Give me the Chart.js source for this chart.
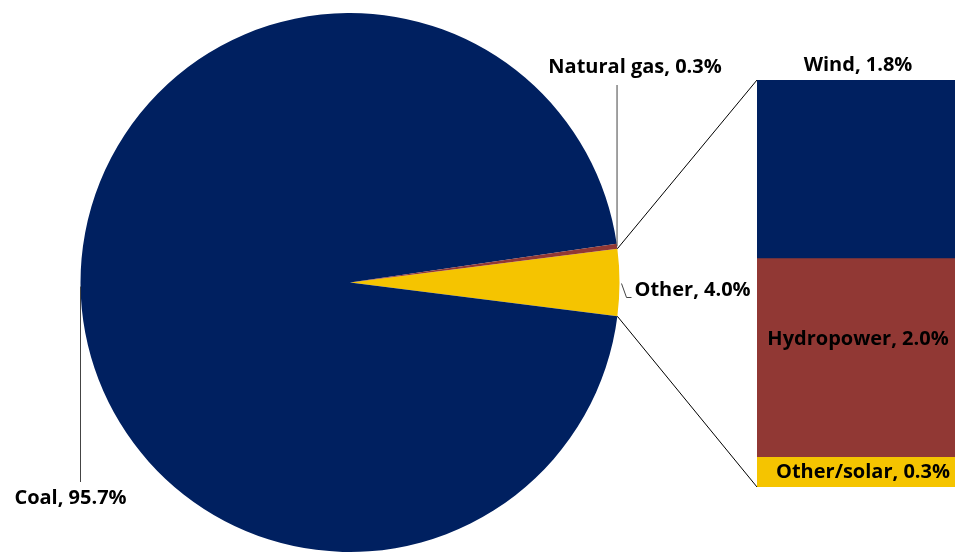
<!DOCTYPE html>
<html><head><meta charset="utf-8">
<script src="https://cdn.jsdelivr.net/npm/chart.js@4.4.1/dist/chart.umd.min.js"></script>
<style>
html,body{margin:0;padding:0;background:#fff;}
#wrap{position:relative;width:955px;height:552px;}
canvas{position:absolute;left:0;top:0;}
</style></head><body>
<div id="wrap"><canvas id="bar" width="955" height="552"></canvas><canvas id="pie" width="955" height="552"></canvas></div>
<script>
// Pie data (order: Other, Coal, Natural gas)
const pieLabels = ['Other', 'Coal', 'Natural gas'];
const pieValues = [4.0, 95.7, 0.3];
const pieColors = ['#F5C400', '#002060', '#913834'];
// Breakdown of "Other" (stack bottom to top)
const barLabels = ['Other/solar', 'Hydropower', 'Wind'];
const barValues = [0.3, 2.0, 1.8];
const barColors = ['#F5C400', '#913834', '#002060'];

// pick a font size so that the label widths match the reference
const FAMILY = '"Open Sans", Lato, sans-serif';
let FONT = 'bold 19px ' + FAMILY;
(function(){
  const c = document.createElement('canvas').getContext('2d');
  c.font = 'bold 20px ' + FAMILY;
  const w = c.measureText('Natural gas, 0.3%').width;
  const size = Math.round(20 * 173 / w * 2) / 2;
  FONT = 'bold ' + size + 'px ' + FAMILY;
})();

const otherShare = pieValues[0] / pieValues.reduce((a,b)=>a+b,0);
const rotationDeg = 90 - otherShare * 360 / 2;

const barLabelPlugin = {
  id: 'barLabels',
  afterDatasetsDraw(chart) {
    const ctx = chart.ctx;
    ctx.save();
    ctx.font = FONT;
    ctx.fillStyle = '#000';
    ctx.textAlign = 'center';
    ctx.textBaseline = 'middle';
    chart.data.datasets.forEach((ds, i) => {
      const el = chart.getDatasetMeta(i).data[0];
      const cx = (chart.chartArea.left + chart.chartArea.right) / 2;
      const txt = ds.label + ', ' + ds.data[0].toFixed(1) + '%';
      let y;
      if (ds.label === 'Wind') y = el.y - 15;
      else if (ds.label === 'Hydropower') y = (el.y + el.base) / 2 - 19;
      else y = (el.y + el.base) / 2;
      ctx.fillText(txt, cx + (ds.label === 'Other/solar' ? 7 : 2), y);
    });
    ctx.restore();
  }
};

const barChart = new Chart(document.getElementById('bar'), {
  type: 'bar',
  data: {
    labels: ['Other'],
    datasets: barLabels.map((l, i) => ({
      label: l, data: [barValues[i]], backgroundColor: barColors[i],
      borderWidth: 0, barPercentage: 1, categoryPercentage: 1
    }))
  },
  options: {
    responsive: false, animation: false,
    layout: { padding: { left: 757, right: 0, top: 80, bottom: 65 } },
    plugins: { legend: { display: false }, tooltip: { enabled: false } },
    scales: {
      x: { display: false, stacked: true },
      y: { display: false, stacked: true, min: 0, max: barValues.reduce((a,b)=>a+b,0) }
    }
  },
  plugins: [barLabelPlugin]
});

const pieLabelPlugin = {
  id: 'pieLabels',
  afterDatasetsDraw(chart) {
    const ctx = chart.ctx;
    const arcs = chart.getDatasetMeta(0).data;
    const pt = (arc, a) => [arc.x + arc.outerRadius * Math.cos(a), arc.y + arc.outerRadius * Math.sin(a)];
    ctx.save();
    ctx.font = FONT;
    ctx.fillStyle = '#000';
    ctx.textBaseline = 'middle';
    // connectors from "Other" slice to the breakdown bar
    const other = arcs[0];
    const ca = barChart.chartArea;
    const p1 = pt(other, other.startAngle), p2 = pt(other, other.endAngle);
    ctx.strokeStyle = '#000'; ctx.lineWidth = 1;
    ctx.beginPath();
    ctx.moveTo(p1[0], p1[1]); ctx.lineTo(ca.left, ca.top);
    ctx.moveTo(p2[0], p2[1]); ctx.lineTo(ca.left, ca.bottom);
    ctx.stroke();
    // Other label
    const pm = pt(other, (other.startAngle + other.endAngle) / 2);
    ctx.strokeStyle = '#444';
    ctx.beginPath();
    ctx.moveTo(pm[0] + 2, pm[1] + 1); ctx.lineTo(pm[0] + 7, pm[1] + 15); ctx.lineTo(pm[0] + 12, pm[1] + 15);
    ctx.stroke();
    ctx.textAlign = 'left';
    ctx.fillText(pieLabels[0] + ', ' + pieValues[0].toFixed(1) + '%', pm[0] + 15, pm[1] + 8);
    // Natural gas label
    const gas = arcs[2];
    const pg = pt(gas, (gas.startAngle + gas.endAngle) / 2);
    ctx.beginPath();
    ctx.moveTo(pg[0], pg[1]); ctx.lineTo(pg[0], 85);
    ctx.stroke();
    ctx.textAlign = 'center';
    ctx.fillText(pieLabels[2] + ', ' + pieValues[2].toFixed(1) + '%', pg[0] + 18, 67);
    // Coal label (leftmost point of the pie)
    const coal = arcs[1];
    const pc = [coal.x - coal.outerRadius, coal.y];
    ctx.beginPath();
    ctx.moveTo(pc[0], pc[1] + 4); ctx.lineTo(pc[0], 482);
    ctx.stroke();
    ctx.fillText(pieLabels[1] + ', ' + pieValues[1].toFixed(1) + '%', pc[0] - 10, 498);
    ctx.restore();
  }
};

new Chart(document.getElementById('pie'), {
  type: 'pie',
  data: {
    labels: pieLabels,
    datasets: [{ data: pieValues, backgroundColor: pieColors, borderWidth: 0 }]
  },
  options: {
    responsive: false, animation: false,
    rotation: rotationDeg,
    layout: { padding: { left: 80, right: 335, top: 13, bottom: 0 } },
    plugins: { legend: { display: false }, tooltip: { enabled: false } }
  },
  plugins: [pieLabelPlugin]
});
</script>
</body></html>
